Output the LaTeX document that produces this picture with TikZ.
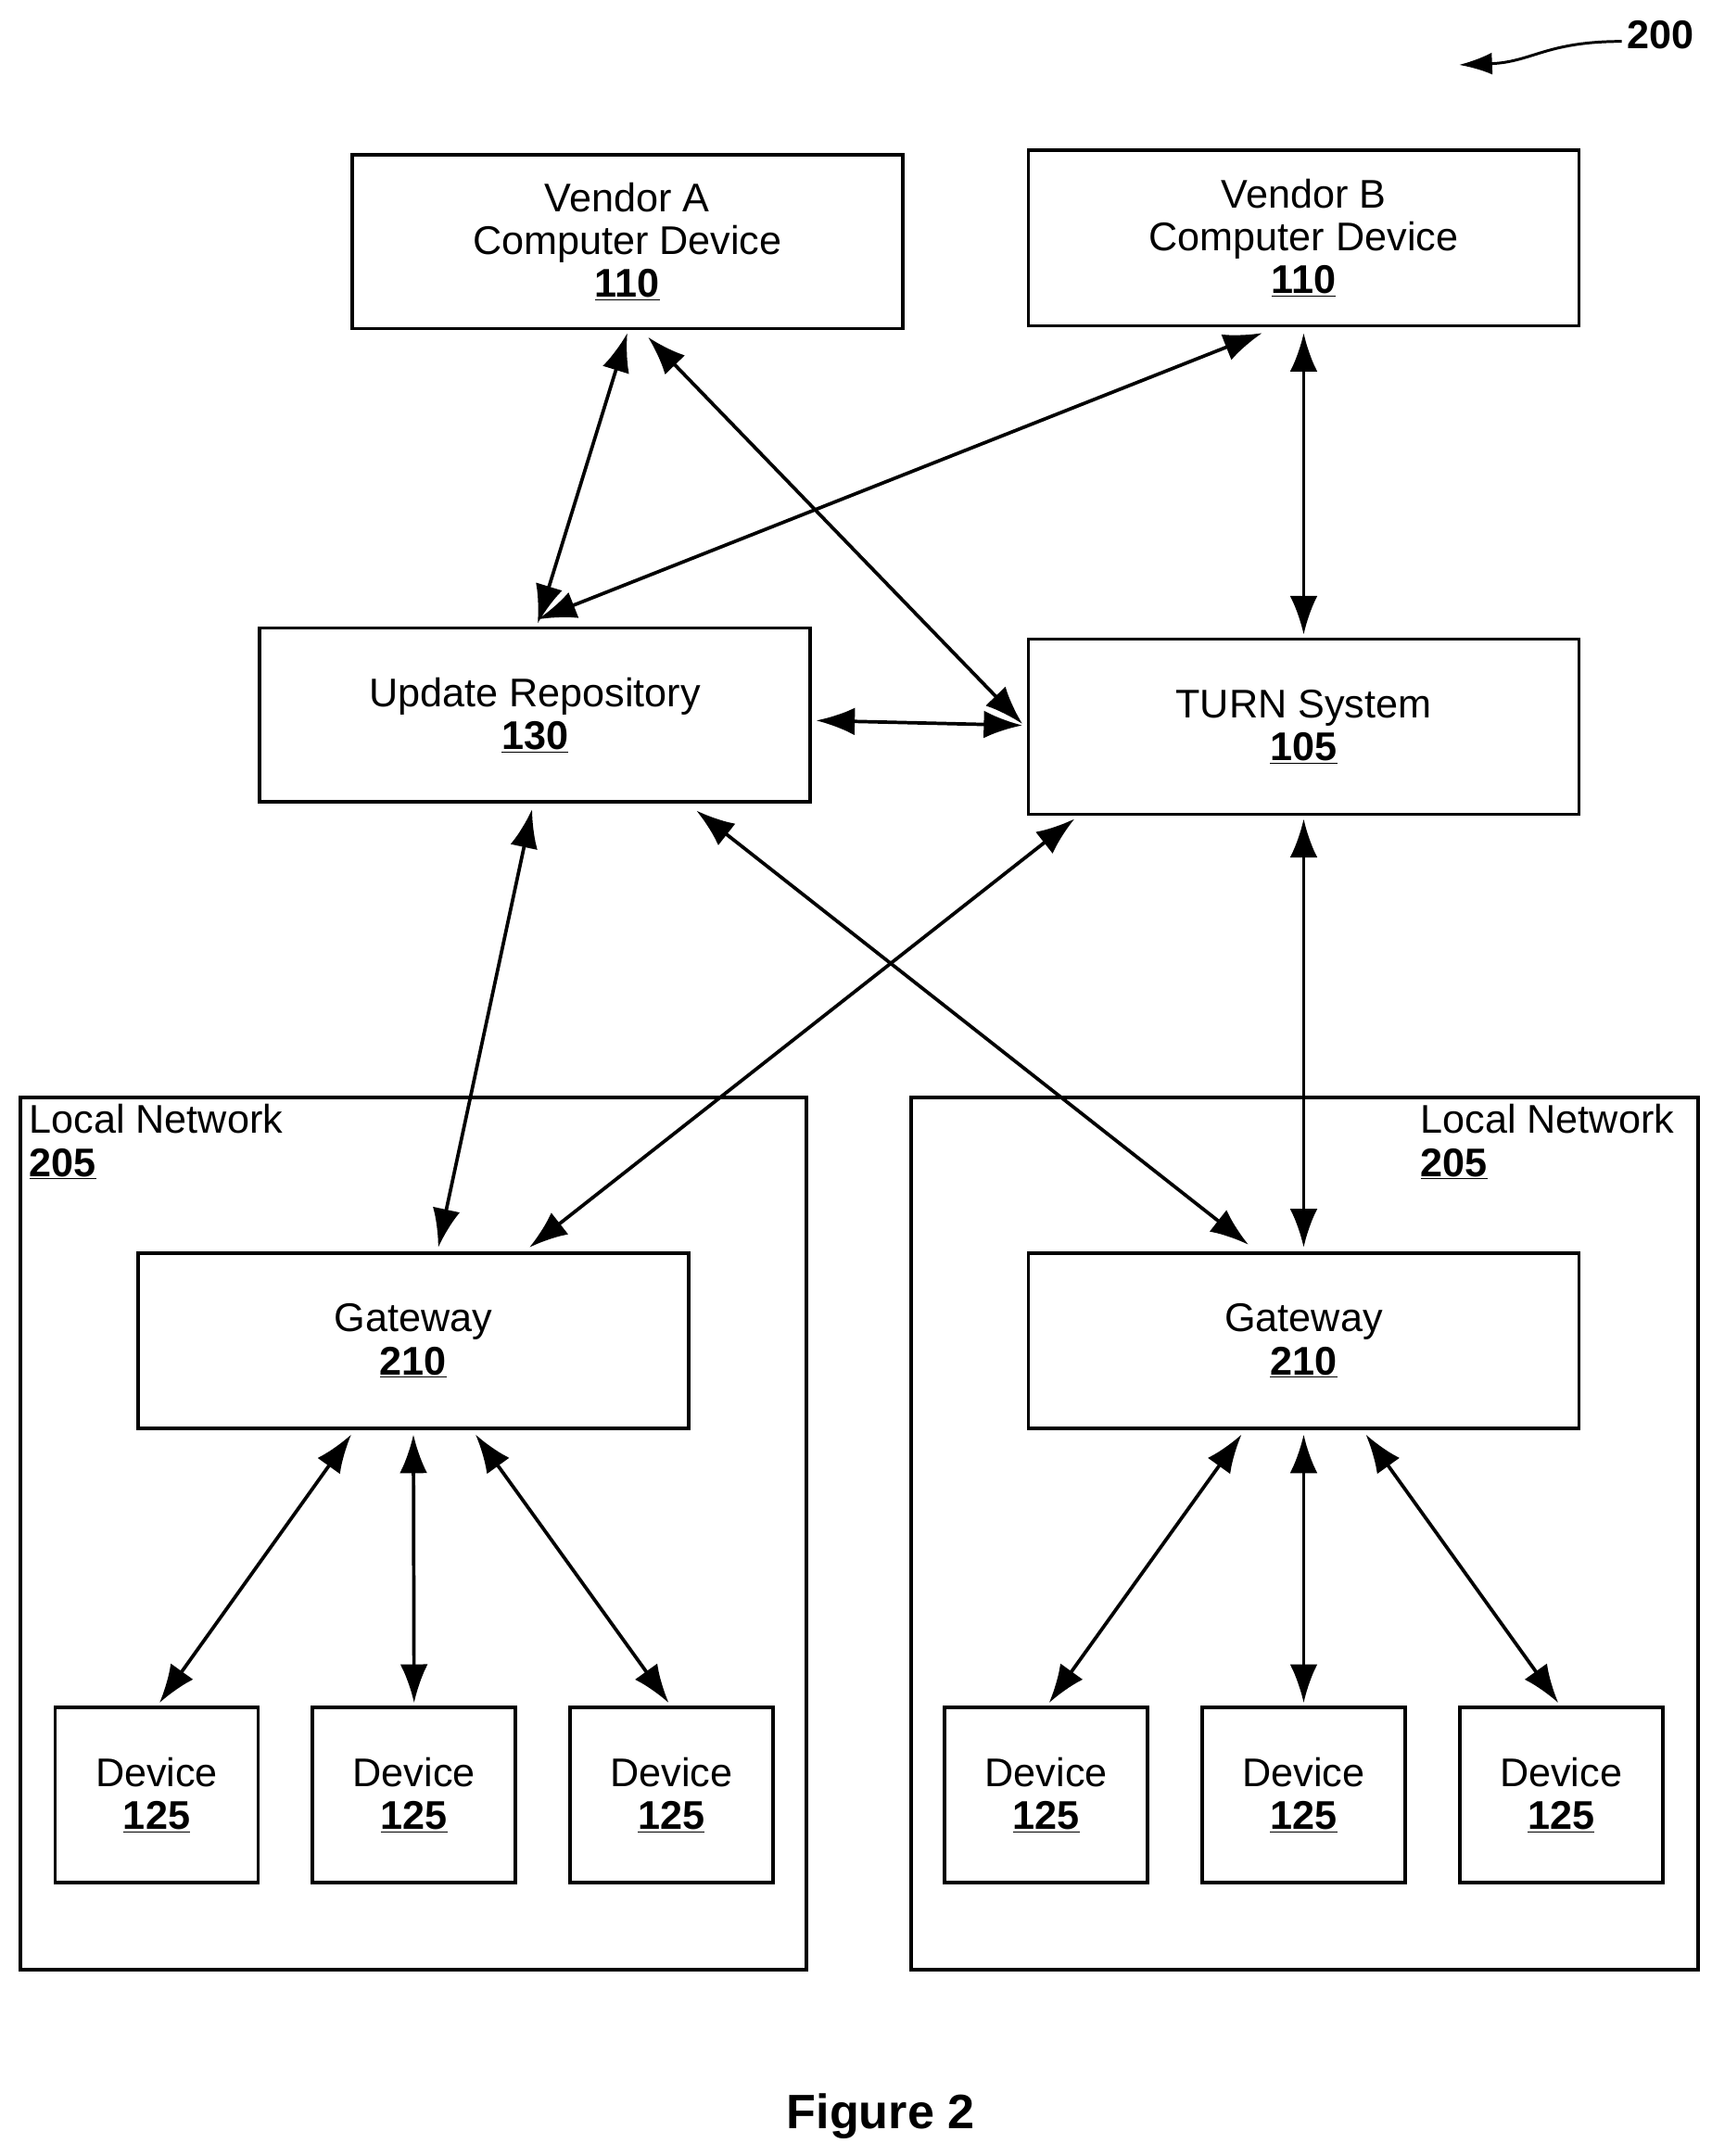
\documentclass[tikz,border=0pt]{standalone}
\usepackage{fontspec}
\setmainfont{Liberation Sans}
\usetikzlibrary{arrows.meta,calc}
\begin{document}
\begin{tikzpicture}[x=1pt,y=-1pt,
 box/.style={draw,line width=2.5pt,inner sep=0pt,align=center,font=\fontsize{29}{31}\selectfont},
 lab/.style={font=\fontsize{29}{31}\selectfont,align=left,inner sep=0pt},
 con/.style={line width=2.5pt,{Latex[length=28pt,width=20pt]}-{Latex[length=28pt,width=20pt]}}]
\useasboundingbox (0,0) rectangle (1240,1562);
\node[box,minimum width=399pt,minimum height=126pt] (va) at (454.5,175) {Vendor A\\Computer Device\\\underline{\textbf{110}}};
\node[box,minimum width=399pt,minimum height=127pt] (vb) at (944.5,172.5) {Vendor B\\Computer Device\\\underline{\textbf{110}}};
\node[box,minimum width=399pt,minimum height=126pt] (ur) at (387.5,518) {Update Repository\\\underline{\textbf{130}}};
\node[box,minimum width=399pt,minimum height=127pt] (tu) at (944.5,526.5) {TURN System\\\underline{\textbf{105}}};
\node[box,minimum width=569pt,minimum height=632pt] (lnl) at (299.5,1111) {};
\node[box,minimum width=570pt,minimum height=632pt] (lnr) at (945,1111) {};
\node[lab,anchor=north west] (tl) at (21,800) {Local Network\\\underline{\textbf{205}}};
\node[lab,anchor=north west] (tr) at (1029,800) {Local Network\\\underline{\textbf{205}}};
\node[box,minimum width=399pt,minimum height=127pt] (gl) at (299.5,971.5) {Gateway\\\underline{\textbf{210}}};
\node[box,minimum width=399pt,minimum height=127pt] (gr) at (944.5,971.5) {Gateway\\\underline{\textbf{210}}};
\foreach \n/\x in {d1/113.5,d2/300,d3/486.5,d4/758,d5/944.5,d6/1131}
  \node[box,minimum width=147pt,minimum height=127pt] (\n) at (\x,1300.5) {Device\\\underline{\textbf{125}}};
\node[font=\bfseries\fontsize{35}{38}\selectfont] (fig) at (638,1533) {Figure 2};
\node[font=\bfseries\fontsize{29}{32}\selectfont] (num) at (1203,25) {200};
\coordinate (nc) at (1175,30);
\draw[line width=2pt,-{Latex[length=24pt,width=16pt]}] (nc) .. controls (1120,30) and (1110,45) .. (1057,47);
% connectors
\draw[con] ($(va.south)+(0,2)$) -- ($(ur.north)+(2,-2)$);
\draw[con] ($(va.south)+(15,5)$) -- ($(tu.west)+(-3,-2)$);
\draw[con] ($(vb.south)+(-30,4)$) -- ($(ur.north)+(2,-5)$);
\draw[con] ($(vb.south)+(0,4)$) -- ($(tu.north)+(0,-2)$);
\draw[con] ($(ur.east)+(3,4)$) -- ($(tu.west)+(-3,-1)$);
\draw[con] ($(ur.south)+(-2,4)$) -- ($(gl.north)+(18,-3)$);
\draw[con] ($(tu.south)+(-166,2)$) -- ($(gl.north)+(84,-3)$);
\draw[con] ($(ur.south)+(117,5)$) -- ($(gr.north)+(-40,-5)$);
\draw[con] ($(tu.south)+(0,2)$) -- ($(gr.north)+(0,-3)$);
\draw[con] ($(gl.south)+(-45,3)$) -- ($(d1.north)+(2,-2)$);
\draw[con] ($(gl.south)+(0,3)$) -- ($(d2.north)+(0,-2)$);
\draw[con] ($(gl.south)+(45,3)$) -- ($(d3.north)+(-2,-2)$);
\draw[con] ($(gr.south)+(-45,3)$) -- ($(d4.north)+(2,-2)$);
\draw[con] ($(gr.south)+(0,3)$) -- ($(d5.north)+(0,-2)$);
\draw[con] ($(gr.south)+(45,3)$) -- ($(d6.north)+(-2,-2)$);
\end{tikzpicture}
\end{document}
